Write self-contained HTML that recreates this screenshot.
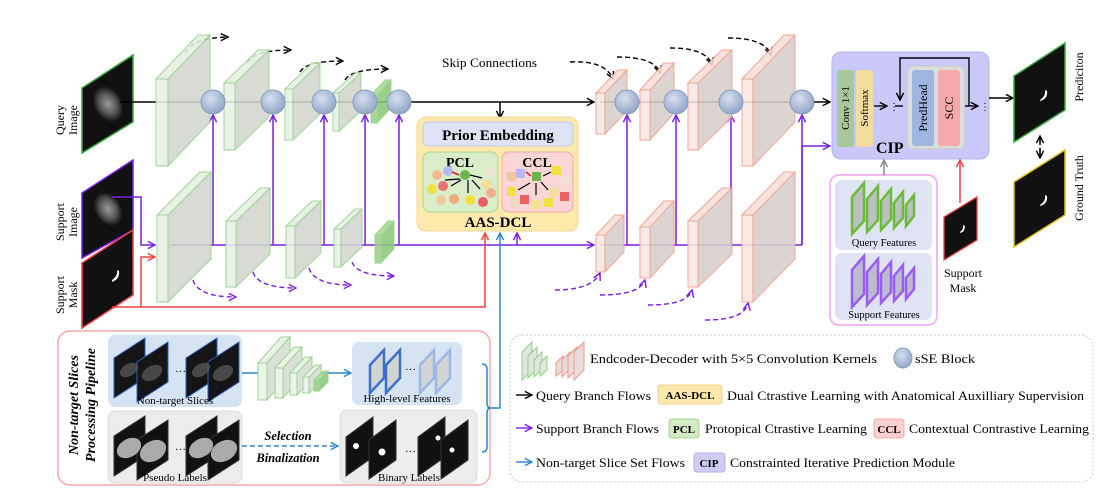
<!DOCTYPE html>
<html><head><meta charset="utf-8"><style>
html,body{margin:0;padding:0;background:#fff;}
svg{display:block;font-family:"Liberation Serif",serif;}
</style></head><body>
<svg width="1116" height="498" viewBox="0 0 1116 498" xmlns="http://www.w3.org/2000/svg">
<defs>
<marker id="ak" viewBox="0 0 10 10" refX="9" refY="5" markerWidth="9" markerHeight="9" markerUnits="userSpaceOnUse" orient="auto"><path d="M1,1 L9,5 L1,9" fill="none" stroke="#000" stroke-width="1.6"/></marker>
<marker id="ap" viewBox="0 0 10 10" refX="9" refY="5" markerWidth="9" markerHeight="9" markerUnits="userSpaceOnUse" orient="auto"><path d="M1,1 L9,5 L1,9" fill="none" stroke="#7a1fe0" stroke-width="1.6"/></marker>
<marker id="ar" viewBox="0 0 10 10" refX="9" refY="5" markerWidth="9" markerHeight="9" markerUnits="userSpaceOnUse" orient="auto"><path d="M1,1 L9,5 L1,9" fill="none" stroke="#f04040" stroke-width="1.6"/></marker>
<marker id="ab" viewBox="0 0 10 10" refX="9" refY="5" markerWidth="9" markerHeight="9" markerUnits="userSpaceOnUse" orient="auto"><path d="M1,1 L9,5 L1,9" fill="none" stroke="#2a86d0" stroke-width="1.6"/></marker>
<marker id="ag" viewBox="0 0 10 10" refX="9" refY="5" markerWidth="9" markerHeight="9" markerUnits="userSpaceOnUse" orient="auto"><path d="M1,1 L9,5 L1,9" fill="none" stroke="#888" stroke-width="1.6"/></marker>
<radialGradient id="sse" cx="40%" cy="35%" r="70%"><stop offset="0" stop-color="#d6e0f0"/><stop offset="1" stop-color="#8ea2c4"/></radialGradient>
<radialGradient id="brain" cx="50%" cy="50%" r="50%"><stop offset="0" stop-color="#999"/><stop offset="0.6" stop-color="#555"/><stop offset="1" stop-color="#111"/></radialGradient>
</defs>

<polygon points="82,88 133,55 133,122 82,153" fill="#111" stroke="#3aa83a" stroke-width="1.5"/>
<ellipse cx="108" cy="104" rx="14" ry="19" fill="url(#brain)" transform="rotate(-30 108 104)"/>
<polygon points="82,193 133,160 133,230 82,258" fill="#111" stroke="#7a1fe0" stroke-width="1.5"/>
<ellipse cx="108" cy="209" rx="13" ry="18" fill="url(#brain)" transform="rotate(-30 108 209)"/>
<polygon points="82,263 133,230 133,295 82,328" fill="#111" stroke="#f04040" stroke-width="1.5"/>
<path d="M112,280 q6,-4 5,-10 l2,1 q1,8 -7,11z" fill="#fff"/>
<g font-size="12" text-anchor="middle">
<text transform="translate(64,120) rotate(-90)">Query</text>
<text transform="translate(77,120) rotate(-90)">Image</text>
<text transform="translate(64,222) rotate(-90)">Support</text>
<text transform="translate(77,222) rotate(-90)">Image</text>
<text transform="translate(64,295) rotate(-90)">Support</text>
<text transform="translate(77,295) rotate(-90)">Mask</text>
</g>

<line x1="120" y1="102" x2="594" y2="102" stroke="#000" stroke-width="1.5" marker-end="url(#ak)"/>
<line x1="600" y1="102" x2="830" y2="102" stroke="#000" stroke-width="1.5" marker-end="url(#ak)"/>
<line x1="500" y1="102" x2="500" y2="118" stroke="#000" stroke-width="1.5" marker-end="url(#ak)"/>
<polyline points="112,197 141,197 141,245 155,245" fill="none" stroke="#7a1fe0" stroke-width="1.5" marker-end="url(#ap)"/>
<line x1="170" y1="245" x2="594" y2="245" stroke="#7a1fe0" stroke-width="1.5" marker-end="url(#ap)"/>
<line x1="600" y1="245" x2="802" y2="245" stroke="#7a1fe0" stroke-width="1.5"/>
<polyline points="802,245 802,146 830,146" fill="none" stroke="#7a1fe0" stroke-width="1.5" marker-end="url(#ap)"/>
<g stroke="#7a1fe0" stroke-width="1.5" marker-end="url(#ap)">
<line x1="213" y1="245" x2="213" y2="115"/><line x1="273" y1="245" x2="273" y2="115"/>
<line x1="324" y1="245" x2="324" y2="115"/><line x1="365" y1="245" x2="365" y2="115"/>
<line x1="399" y1="245" x2="399" y2="115"/><line x1="517" y1="245" x2="517" y2="233"/>
<line x1="627" y1="245" x2="627" y2="115"/><line x1="676" y1="245" x2="676" y2="115"/>
<line x1="731" y1="245" x2="731" y2="115"/><line x1="802" y1="245" x2="802" y2="115"/>
</g>
<polyline points="112,307 485,307 485,233" fill="none" stroke="#f04040" stroke-width="1.5" marker-end="url(#ar)"/>
<polyline points="141,307 141,257 155,257" fill="none" stroke="#f04040" stroke-width="1.5" marker-end="url(#ar)"/>
<polyline points="490,408 500,408 500,233" fill="none" stroke="#2a86d0" stroke-width="1.5" marker-end="url(#ab)"/>

<g fill="none" stroke="#000" stroke-width="1.4" stroke-dasharray="5,3" marker-end="url(#ak)">
<path d="M185,53 Q192,38 228,37"/><path d="M247,63 Q254,50 291,50"/>
<path d="M300,72 Q306,61 343,61"/><path d="M345,80 Q351,69 388,69"/>
<path d="M570,62 Q605,60 613,79"/><path d="M617,57 Q655,57 660,73"/>
<path d="M670,48 Q707,48 712,65"/><path d="M728,38 Q765,38 771,55"/>
</g>
<g fill="none" stroke="#7a1fe0" stroke-width="1.4" stroke-dasharray="5,3" marker-end="url(#ap)">
<path d="M193,280 Q198,297 236,297"/><path d="M253,272 Q258,288 296,288"/>
<path d="M309,268 Q314,285 351,285"/><path d="M352,262 Q357,276 394,276"/>
<path d="M555,290 Q592,290 600,273"/><path d="M600,295 Q640,295 645,280"/>
<path d="M648,305 Q688,305 692,290"/><path d="M705,320 Q745,320 748,303"/>
</g>

<g stroke="#93d08a" stroke-width="1" opacity="0.88">
<polygon points="168,79 210,35 210,122 168,166" fill="#d2d7ce"/><polygon points="156,79 198,35 210,35 168,79" fill="#e6eee2"/><rect x="156" y="79" width="12" height="87" fill="#e8f0e4"/>
<polygon points="235,83 269,50 269,117 235,150" fill="#d2d7ce"/><polygon points="224,83 258,50 269,50 235,83" fill="#e6eee2"/><rect x="224" y="83" width="11" height="67" fill="#e8f0e4"/>
<polygon points="293,89 320,63 320,114 293,140" fill="#d2d7ce"/><polygon points="285,89 312,63 320,63 293,89" fill="#e6eee2"/><rect x="285" y="89" width="8" height="51" fill="#e8f0e4"/>
<polygon points="339,93 361,73 361,111 339,131" fill="#d2d7ce"/><polygon points="333,93 355,73 361,73 339,93" fill="#e6eee2"/><rect x="333" y="93" width="6" height="38" fill="#e8f0e4"/>
<polygon points="377,95 391,80 391,108 377,123" fill="#8cc97a"/><polygon points="371,95 385,80 391,80 377,95" fill="#a8d898"/><rect x="371" y="95" width="6" height="28" fill="#9ad088"/>
<polygon points="168,215 211,172 211,259 168,302" fill="#d2d7ce"/><polygon points="157,215 200,172 211,172 168,215" fill="#e6eee2"/><rect x="157" y="215" width="11" height="87" fill="#e8f0e4"/>
<polygon points="236,221 270,188 270,254 236,287" fill="#d2d7ce"/><polygon points="226,221 260,188 270,188 236,221" fill="#e6eee2"/><rect x="226" y="221" width="10" height="66" fill="#e8f0e4"/>
<polygon points="295,226 321,201 321,253 295,278" fill="#d2d7ce"/><polygon points="286,226 312,201 321,201 295,226" fill="#e6eee2"/><rect x="286" y="226" width="9" height="52" fill="#e8f0e4"/>
<polygon points="341,229 362,209 362,247 341,267" fill="#d2d7ce"/><polygon points="334,229 355,209 362,209 341,229" fill="#e6eee2"/><rect x="334" y="229" width="7" height="38" fill="#e8f0e4"/>
<polygon points="381,235 394,221 394,249 381,263" fill="#8cc97a"/><polygon points="375,235 388,221 394,221 381,235" fill="#a8d898"/><rect x="375" y="235" width="6" height="28" fill="#9ad088"/>
</g>
<g stroke="#ef9a8a" stroke-width="1" opacity="0.88">
<polygon points="605,93 627,70 627,111 605,134" fill="#d8cfcb"/><polygon points="596,93 618,70 627,70 605,93" fill="#f7dfd8"/><rect x="596" y="93" width="9" height="41" fill="#f8e6e1"/>
<polygon points="650,90 674,63 674,113 650,140" fill="#d8cfcb"/><polygon points="640,90 664,63 674,63 650,90" fill="#f7dfd8"/><rect x="640" y="90" width="10" height="50" fill="#f8e6e1"/>
<polygon points="698,83 732,50 732,117 698,150" fill="#d8cfcb"/><polygon points="688,83 722,50 732,50 698,83" fill="#f7dfd8"/><rect x="688" y="83" width="10" height="67" fill="#f8e6e1"/>
<polygon points="753,79 795,35 795,122 753,166" fill="#d8cfcb"/><polygon points="742,79 784,35 795,35 753,79" fill="#f7dfd8"/><rect x="742" y="79" width="11" height="87" fill="#f8e6e1"/>
<polygon points="605,235 624,215 624,252 605,272" fill="#d8cfcb"/><polygon points="596,235 615,215 624,215 605,235" fill="#f7dfd8"/><rect x="596" y="235" width="9" height="37" fill="#f8e6e1"/>
<polygon points="650,227 674,201 674,252 650,278" fill="#d8cfcb"/><polygon points="640,227 664,201 674,201 650,227" fill="#f7dfd8"/><rect x="640" y="227" width="10" height="51" fill="#f8e6e1"/>
<polygon points="698,221 732,188 732,254 698,287" fill="#d8cfcb"/><polygon points="688,221 722,188 732,188 698,221" fill="#f7dfd8"/><rect x="688" y="221" width="10" height="66" fill="#f8e6e1"/>
<polygon points="753,215 795,172 795,259 753,302" fill="#d8cfcb"/><polygon points="742,215 784,172 795,172 753,215" fill="#f7dfd8"/><rect x="742" y="215" width="11" height="87" fill="#f8e6e1"/>
</g>
<g fill="url(#sse)" stroke="#8a9cc0" stroke-width="1">
<circle cx="213" cy="102" r="12"/><circle cx="273" cy="102" r="12"/><circle cx="324" cy="102" r="12"/><circle cx="365" cy="102" r="12"/><circle cx="399" cy="102" r="12"/>
<circle cx="627" cy="102" r="12"/><circle cx="676" cy="102" r="12"/><circle cx="731" cy="102" r="12"/><circle cx="802" cy="102" r="12"/>
</g>
<text x="442" y="67" font-size="12.5" textLength="95" lengthAdjust="spacingAndGlyphs">Skip Connections</text>

<rect x="417" y="117" width="161" height="114" rx="9" fill="#fde9ab" stroke="#f3d890"/>
<rect x="423" y="122" width="150" height="24" rx="5" fill="#dde3f5" stroke="#c5cde6"/>
<text x="498" y="140" font-size="15" font-weight="bold" text-anchor="middle">Prior Embedding</text>
<rect x="423" y="152" width="75" height="60" rx="7" fill="#d9edc8" stroke="#a9d690"/>
<rect x="502" y="152" width="71" height="60" rx="7" fill="#fbd6d6" stroke="#f0a9a9"/>
<text x="460" y="167" font-size="14" font-weight="bold" text-anchor="middle">PCL</text>
<text x="537" y="167" font-size="14" font-weight="bold" text-anchor="middle">CCL</text>
<g>
<circle cx="437" cy="175" r="5" fill="#f0b896"/><circle cx="448" cy="171" r="5" fill="#b9b9f2"/><circle cx="465" cy="175" r="5" fill="#6cb450"/><circle cx="490" cy="173" r="5" fill="#eee2d4"/>
<circle cx="432" cy="189" r="5" fill="#f0e040"/><circle cx="443" cy="186" r="5" fill="#e87070"/><circle cx="486" cy="184" r="5" fill="#f2e09a"/><circle cx="491" cy="193" r="5" fill="#f0b090"/>
<circle cx="441" cy="200" r="5" fill="#f2c8a0"/><circle cx="454" cy="199" r="5" fill="#f0a880"/><circle cx="470" cy="200" r="5" fill="#f0e040"/><circle cx="483" cy="202" r="5" fill="#e86060"/>
<g stroke="#000" stroke-width="1.2"><line x1="451" y1="186" x2="461" y2="180"/><line x1="468" y1="180" x2="468" y2="193"/><line x1="472" y1="180" x2="480" y2="189"/><line x1="470" y1="175" x2="482" y2="178"/><line x1="445" y1="180" x2="460" y2="179"/></g>
<line x1="452" y1="172" x2="459" y2="175" stroke="#e02020" stroke-width="1.5"/>
<rect x="507" y="172" width="9" height="9" fill="#f2c4a0"/><rect x="516" y="169" width="9" height="9" fill="#b9b9f2"/><rect x="532" y="172" width="9" height="9" fill="#6cb450"/><rect x="552" y="166" width="9" height="9" fill="#f0e040"/><rect x="561" y="175" width="9" height="9" fill="#eee2d4"/>
<rect x="507" y="187" width="9" height="9" fill="#f0e040"/><rect x="549" y="188" width="9" height="9" fill="#f2e09a"/><rect x="560" y="192" width="9" height="9" fill="#e86060"/>
<rect x="510" y="199" width="9" height="9" fill="#f2d8c0"/><rect x="520" y="195" width="9" height="9" fill="#e86060"/><rect x="532" y="200" width="9" height="9" fill="#f2e09a"/><rect x="544" y="198" width="9" height="9" fill="#f0e040"/>
<g stroke="#000" stroke-width="1.2"><line x1="518" y1="190" x2="530" y2="183"/><line x1="536" y1="183" x2="536" y2="195"/><line x1="541" y1="182" x2="548" y2="190"/><line x1="543" y1="176" x2="551" y2="172"/></g>
<line x1="526" y1="172" x2="531" y2="176" stroke="#e02020" stroke-width="1.5"/>
</g>
<text x="498" y="227" font-size="15" font-weight="bold" text-anchor="middle">AAS-DCL</text>

<rect x="832" y="52" width="157" height="107" rx="9" fill="#c9c8f9" stroke="#b3b2ee"/>
<rect x="837" y="70" width="17" height="77" rx="3" fill="#a9c89a"/>
<rect x="856" y="70" width="17" height="77" rx="3" fill="#f4dc9e"/>
<text transform="translate(849,108) rotate(-90)" font-size="11" text-anchor="middle">Conv 1×1</text>
<text transform="translate(868,108) rotate(-90)" font-size="11" text-anchor="middle">Softmax</text>
<rect x="907" y="66" width="58" height="83" rx="6" fill="#dcdcdc" stroke="#c8c8c8"/>
<rect x="912" y="70" width="22" height="76" rx="3" fill="#9db5e0"/>
<rect x="938" y="70" width="22" height="76" rx="3" fill="#f8a8a8"/>
<text transform="translate(927,108) rotate(-90)" font-size="12" text-anchor="middle">PredHead</text>
<text transform="translate(953,108) rotate(-90)" font-size="12" text-anchor="middle">SCC</text>
<line x1="874" y1="106" x2="887" y2="106" stroke="#000" stroke-width="1.4" marker-end="url(#ak)"/>
<text x="889" y="110" font-size="10">⋮</text>
<line x1="895" y1="106" x2="903" y2="106" stroke="#000" stroke-width="1.4"/>
<polyline points="969,106 969,58 900,58 900,100" fill="none" stroke="#000" stroke-width="1.4" marker-end="url(#ak)"/>
<line x1="965" y1="106" x2="978" y2="106" stroke="#000" stroke-width="1.4" marker-end="url(#ak)"/>
<text x="980" y="110" font-size="10">⋮</text>
<text x="876" y="153" font-size="16" font-weight="bold">CIP</text>
<line x1="989" y1="98" x2="1013" y2="98" stroke="#000" stroke-width="1.4" marker-end="url(#ak)"/>

<rect x="830" y="175" width="107" height="150" rx="9" fill="#fff" stroke="#f2b8f2" stroke-width="2"/>
<rect x="835" y="180" width="97" height="70" rx="7" fill="#dfe3f3"/>
<rect x="835" y="253" width="97" height="67" rx="7" fill="#dfe3f3"/>
<line x1="884" y1="175" x2="884" y2="160" stroke="#888" stroke-width="1.5" marker-end="url(#ag)"/>
<g stroke="#6cbc3c" stroke-width="2.5" fill="#bcc0c0">
<polygon points="852,197 864,183 864,221 852,234"/><polygon points="867,199 878,186 878,220 867,232"/><polygon points="881,201 891,189 891,219 881,230"/><polygon points="894,203 903,192 903,218 894,228"/><polygon points="906,205 914,195 914,216 906,226"/>
</g>
<g stroke="#9a5cf6" stroke-width="2.5" fill="#bcbccc">
<polygon points="852,270 864,256 864,294 852,307"/><polygon points="867,272 878,259 878,293 867,305"/><polygon points="881,274 891,262 891,292 881,303"/><polygon points="894,276 903,265 903,291 894,301"/><polygon points="906,278 914,268 914,289 906,299"/>
</g>
<text x="884" y="246" font-size="10.5" text-anchor="middle">Query Features</text>
<text x="884" y="318" font-size="10.5" text-anchor="middle">Support Features</text>

<polygon points="944,217 977,197 977,240 944,260" fill="#111" stroke="#f04040" stroke-width="1.3"/>
<path d="M960,232 q4,-3 3,-7 l2,1 q0,6 -5,7z" fill="#fff"/>
<line x1="960" y1="203" x2="960" y2="160" stroke="#f04040" stroke-width="1.5" marker-end="url(#ar)"/>
<text x="963" y="277" font-size="12" text-anchor="middle">Support</text>
<text x="963" y="292" font-size="12" text-anchor="middle">Mask</text>
<polygon points="1014,76 1065,43 1065,110 1014,142" fill="#111" stroke="#3aa83a" stroke-width="1.5"/>
<path d="M1040,100 q6,-4 5,-10 l2,1 q1,8 -7,10z" fill="#fff"/>
<polygon points="1014,182 1065,150 1065,215 1014,247" fill="#111" stroke="#e0c020" stroke-width="1.5"/>
<path d="M1040,205 q6,-4 5,-10 l2,1 q1,8 -7,10z" fill="#fff"/>
<line x1="1040" y1="145" x2="1040" y2="136" stroke="#000" stroke-width="1.6" marker-end="url(#ak)"/>
<line x1="1040" y1="148" x2="1040" y2="158" stroke="#000" stroke-width="1.6" marker-end="url(#ak)"/>
<text transform="translate(1083,77) rotate(-90)" font-size="12" text-anchor="middle">Prediciton</text>
<text transform="translate(1083,188) rotate(-90)" font-size="12" text-anchor="middle">Ground Truth</text>

<rect x="58" y="331" width="432" height="154" rx="12" fill="#fff" stroke="#f5a8a8" stroke-width="1.5"/>
<g font-size="14" font-weight="bold" font-style="italic" text-anchor="middle">
<text transform="translate(78,405) rotate(-90)">Non-target Slices</text>
<text transform="translate(95,405) rotate(-90)">Processing Pipeline</text>
</g>
<rect x="108" y="335" width="134" height="72" rx="7" fill="#d6e3f3"/>
<rect x="108" y="411" width="134" height="72" rx="7" fill="#ececec" stroke="#ddd"/>
<rect x="352" y="342" width="110" height="63" rx="7" fill="#d6e3f3"/>
<rect x="340" y="410" width="137" height="73" rx="7" fill="#ececec" stroke="#ddd"/>
<g stroke="#2a5fc0" stroke-width="1" fill="#151515">
<polygon points="114,358 145,338 145,378 114,398"/><polygon points="137,362 168,342 168,382 137,402"/>
<polygon points="186,358 217,338 217,378 186,398"/><polygon points="208,362 239,342 239,382 208,402"/>
</g>
<g fill="#555" opacity="0.8"><ellipse cx="129" cy="370" rx="10" ry="6" transform="rotate(-30 129 370)"/><ellipse cx="152" cy="373" rx="11" ry="7" transform="rotate(-30 152 373)"/><ellipse cx="201" cy="370" rx="10" ry="6" transform="rotate(-30 201 370)"/><ellipse cx="223" cy="373" rx="11" ry="7" transform="rotate(-30 223 373)"/></g>
<text x="175" y="372" font-size="11">…</text>
<text x="175" y="404" font-size="11" text-anchor="middle">Non-target Slices</text>
<g stroke="#333" stroke-width="1" fill="#111">
<polygon points="114,436 145,416 145,456 114,476"/><polygon points="137,440 168,420 168,460 137,480"/>
<polygon points="186,436 217,416 217,456 186,476"/><polygon points="208,440 239,420 239,460 208,480"/>
</g>
<g fill="#aaa"><ellipse cx="129" cy="448" rx="13" ry="9" transform="rotate(-30 129 448)"/><ellipse cx="153" cy="451" rx="14" ry="10" transform="rotate(-30 153 451)"/><ellipse cx="201" cy="448" rx="13" ry="9" transform="rotate(-30 201 448)"/><ellipse cx="224" cy="451" rx="14" ry="10" transform="rotate(-30 224 451)"/></g>
<text x="175" y="450" font-size="11">…</text>
<text x="175" y="481" font-size="11" text-anchor="middle">Pseudo Labels</text>
<line x1="242" y1="373" x2="258" y2="373" stroke="#2a86d0" stroke-width="1.5"/>
<line x1="320" y1="373" x2="351" y2="373" stroke="#2a86d0" stroke-width="1.5" marker-end="url(#ab)"/>
<g stroke="#93d08a" stroke-width="1" opacity="0.9">
<polygon points="267,363 290,337 290,374 267,400" fill="#d8ddd4"/><polygon points="258,363 281,337 290,337 267,363" fill="#e8f0e4"/><rect x="258" y="363" width="9" height="37" fill="#eaf2e6"/>
<polygon points="283,368 302,347 302,377 283,398" fill="#d8ddd4"/><polygon points="275,368 294,347 302,347 283,368" fill="#e8f0e4"/><rect x="275" y="368" width="8" height="30" fill="#eaf2e6"/>
<polygon points="297,373 312,357 312,379 297,395" fill="#d8ddd4"/><polygon points="290,373 305,357 312,357 297,373" fill="#e8f0e4"/><rect x="290" y="373" width="7" height="22" fill="#eaf2e6"/>
<polygon points="309,377 321,365 321,381 309,393" fill="#d8ddd4"/><polygon points="303,377 315,365 321,365 309,377" fill="#e8f0e4"/><rect x="303" y="377" width="6" height="16" fill="#eaf2e6"/>
<polygon points="319,380 328,371 328,382 319,391" fill="#8cc97a"/><polygon points="314,380 323,371 328,371 319,380" fill="#a8d898"/><rect x="314" y="380" width="5" height="11" fill="#9ad088"/>
</g>
<g stroke-width="2.5" fill="#d4d4d4">
<polygon points="370,365 384,350 384,378 370,393" stroke="#3a70d0"/><polygon points="386,365 400,350 400,378 386,393" stroke="#3a70d0"/>
<polygon points="420,365 434,350 434,378 420,393" stroke="#9ab8e8"/><polygon points="436,365 450,350 450,378 436,393" stroke="#9ab8e8"/>
</g>
<text x="405" y="370" font-size="11">…</text>
<text x="407" y="402" font-size="11" text-anchor="middle">High-level Features</text>
<line x1="242" y1="446" x2="338" y2="446" stroke="#2a86d0" stroke-width="1.5" stroke-dasharray="5,3" marker-end="url(#ab)"/>
<text x="288" y="440" font-size="12.5" font-weight="bold" font-style="italic" text-anchor="middle">Selection</text>
<text x="288" y="462" font-size="12.5" font-weight="bold" font-style="italic" text-anchor="middle">Binalization</text>
<g fill="#111" stroke="#333">
<polygon points="346,437 373,417 373,457 346,476"/><polygon points="369,440 396,420 396,460 369,479"/>
<polygon points="418,437 445,417 445,457 418,476"/><polygon points="441,440 468,420 468,460 441,479"/>
</g>
<g fill="#fff"><circle cx="356" cy="446" r="3"/><circle cx="382" cy="452" r="3.5"/><circle cx="438" cy="438" r="2.5"/><circle cx="452" cy="450" r="2.5"/></g>
<text x="405" y="452" font-size="11">…</text>
<text x="409" y="481" font-size="11" text-anchor="middle">Binary Labels</text>
<path d="M482,364 q5,0 5,5 v34 q0,5 4,5 q-4,0 -4,5 v34 q0,5 -5,5" fill="none" stroke="#2a86d0" stroke-width="1.5"/>

<rect x="510" y="335" width="583" height="147" rx="12" fill="#fff" stroke="#c8c8c8" stroke-dasharray="2,2"/>
<g stroke="#93d08a" stroke-width="1" fill="#dfe6dc"><polygon points="522,352 532,342 532,370 522,380"/><polygon points="528,356 537,347 537,369 528,378"/><polygon points="534,360 542,352 542,369 534,377"/><polygon points="540,363 547,356 547,370 540,376"/></g>
<g stroke="#ef9a8a" stroke-width="1" fill="#e8dcd8"><polygon points="556,363 563,356 563,370 556,376"/><polygon points="562,360 570,352 570,369 562,377"/><polygon points="568,356 577,347 577,369 568,378"/><polygon points="574,352 584,342 584,370 574,380"/></g>
<g font-size="13">
<text x="590" y="363" textLength="287" lengthAdjust="spacingAndGlyphs">Endcoder-Decoder with 5×5 Convolution  Kernels</text>
<ellipse cx="903" cy="358" rx="9" ry="10" fill="url(#sse)" stroke="#8a9cc0"/>
<text x="915" y="363" textLength="60" lengthAdjust="spacingAndGlyphs">sSE Block</text>
<line x1="516" y1="395" x2="532" y2="395" stroke="#000" stroke-width="1.4" marker-end="url(#ak)"/>
<text x="536" y="400" textLength="115" lengthAdjust="spacingAndGlyphs">Query Branch Flows</text>
<rect x="658" y="385" width="64" height="19" rx="3" fill="#fde9ab" stroke="#f0d080"/>
<text x="690" y="399" text-anchor="middle" font-weight="bold" font-size="11">AAS-DCL</text>
<text x="727" y="400" textLength="357" lengthAdjust="spacingAndGlyphs">Dual Ctrastive Learning with Anatomical Auxilliary Supervision</text>
<line x1="516" y1="428" x2="532" y2="428" stroke="#7a1fe0" stroke-width="1.4" marker-end="url(#ap)"/>
<text x="536" y="433" textLength="123" lengthAdjust="spacingAndGlyphs">Support Branch Flows</text>
<rect x="669" y="419" width="30" height="19" rx="3" fill="#d4eac4" stroke="#a9d690"/>
<text x="684" y="433" text-anchor="middle" font-weight="bold" font-size="11">PCL</text>
<text x="705" y="433" textLength="162" lengthAdjust="spacingAndGlyphs">Protopical Ctrastive Learning</text>
<rect x="874" y="419" width="30" height="19" rx="3" fill="#fbd0d0" stroke="#f0a9a9"/>
<text x="889" y="433" text-anchor="middle" font-weight="bold" font-size="11">CCL</text>
<text x="909" y="433" textLength="180" lengthAdjust="spacingAndGlyphs">Contextual Contrastive Learning</text>
<line x1="516" y1="462" x2="532" y2="462" stroke="#2a86d0" stroke-width="1.4" marker-end="url(#ab)"/>
<text x="536" y="467" textLength="149" lengthAdjust="spacingAndGlyphs">Non-target Slice Set Flows</text>
<rect x="694" y="453" width="31" height="19" rx="3" fill="#cfcdf8" stroke="#b3b2ee"/>
<text x="709" y="467" text-anchor="middle" font-weight="bold" font-size="11">CIP</text>
<text x="730" y="467" textLength="225" lengthAdjust="spacingAndGlyphs">Constrainted Iterative Prediction Module</text>
</g>
</svg>
</body></html>
